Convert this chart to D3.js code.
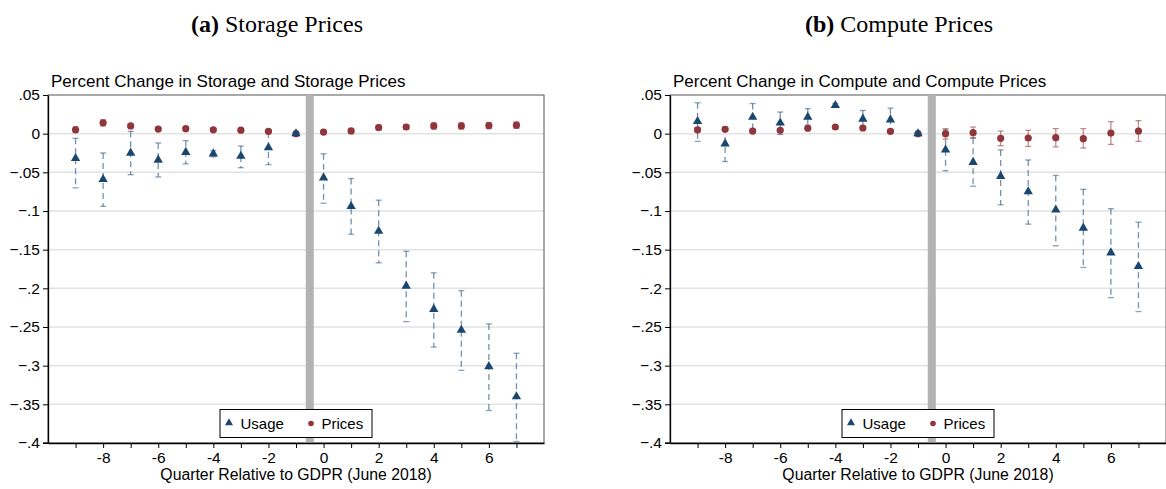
<!DOCTYPE html>
<html>
<head>
<meta charset="utf-8">
<script src="https://cdn.jsdelivr.net/npm/d3@7"></script>
<style>
  body { margin: 0; background: #fff; }
  text { font-family: "Liberation Sans", Arial, sans-serif; }
</style>
</head>
<body>
<svg id="chart"></svg>
<script>
const quarters = [-9, -8, -7, -6, -5, -4, -3, -2, -1, 0, 1, 2, 3, 4, 5, 6, 7];
const xTickLabels = [-8, -6, -4, -2, 0, 2, 4, 6];
const yTicks = [0.05, 0, -0.05, -0.1, -0.15, -0.2, -0.25, -0.3, -0.35, -0.4];

// storage panel
const storageUsage   = [-0.032, -0.059, -0.025, -0.034, -0.024, -0.026, -0.029, -0.018, 0, -0.057, -0.094, -0.126, -0.197, -0.227, -0.254, -0.301, -0.340];
const storageUsageLo = [-0.070, -0.094, -0.053, -0.056, -0.039, -0.030, -0.044, -0.040, 0, -0.090, -0.130, -0.167, -0.243, -0.276, -0.306, -0.358, -0.398];
const storageUsageHi = [-0.006, -0.025, 0.003, -0.012, -0.009, -0.022, -0.016, 0.002, 0, -0.026, -0.058, -0.086, -0.152, -0.180, -0.203, -0.246, -0.284];
const storagePrices   = [0.005, 0.014, 0.010, 0.006, 0.0065, 0.005, 0.0045, 0.003, 0, 0.002, 0.0035, 0.008, 0.0086, 0.010, 0.010, 0.0105, 0.011];
const storagePricesLo = [0.002, 0.010, 0.008, 0.004, 0.0045, 0.003, 0.0025, 0.001, 0, 0.000, 0.0005, 0.005, 0.0055, 0.006, 0.006, 0.0065, 0.007];
const storagePricesHi = [0.009, 0.018, 0.012, 0.008, 0.0085, 0.007, 0.0065, 0.005, 0, 0.004, 0.0065, 0.011, 0.0115, 0.014, 0.014, 0.0145, 0.015];

// compute panel
const computeUsage   = [0.016, -0.013, 0.0215, 0.014, 0.0215, 0.0367, 0.019, 0.018, 0, -0.021, -0.037, -0.055, -0.075, -0.0985, -0.122, -0.154, -0.1715];
const computeUsageLo = [-0.010, -0.036, 0.004, -0.001, 0.011, 0.034, 0.0086, 0.004, 0, -0.048, -0.068, -0.092, -0.117, -0.145, -0.173, -0.212, -0.230];
const computeUsageHi = [0.040, 0.0086, 0.039, 0.028, 0.0324, 0.039, 0.030, 0.033, 0, 0.005, -0.006, -0.021, -0.034, -0.054, -0.072, -0.097, -0.1145];
const computePrices   = [0.005, 0.0056, 0.0034, 0.0043, 0.007, 0.0086, 0.0073, 0.003, 0, 0.0, 0.0013, -0.006, -0.0056, -0.0052, -0.0065, 0.0008, 0.0034];
const computePricesLo = [0.002, 0.003, 0.001, 0.002, 0.005, 0.0065, 0.005, 0.001, 0, -0.007, -0.005, -0.0156, -0.0165, -0.017, -0.0186, -0.0139, -0.010];
const computePricesHi = [0.008, 0.008, 0.006, 0.0065, 0.009, 0.0105, 0.0095, 0.005, 0, 0.0065, 0.0086, 0.0034, 0.0043, 0.0065, 0.0065, 0.0155, 0.0168];

const usageColor = "#1a476f";
const pricesColor = "#90353b";

const svg = d3.select("#chart").attr("width", 1166).attr("height", 489);

const panels = [
    { left: 48, sup: "(a)", supText: " Storage Prices", title: "Percent Change in Storage and Storage Prices",
      usage: storageUsage, usageLo: storageUsageLo, usageHi: storageUsageHi,
      prices: storagePrices, pricesLo: storagePricesLo, pricesHi: storagePricesHi },
    { left: 670, sup: "(b)", supText: " Compute Prices", title: "Percent Change in Compute and Compute Prices",
      usage: computeUsage, usageLo: computeUsageLo, usageHi: computeUsageHi,
      prices: computePrices, pricesLo: computePricesLo, pricesHi: computePricesHi }
];

const plotW = 496, plotTop = 95, plotBottom = 443;

const yFmt = v => {
    if (Math.abs(v) < 1e-9) return "0";
    return d3.format(".2~f")(v).replace("0.", ".");
};

panels.forEach(p => {
    const x = d3.scaleLinear().domain([-10, 8]).range([p.left, p.left + plotW]);
    const y = d3.scaleLinear().domain([-0.4, 0.05]).range([plotBottom, plotTop]);
    const g = svg.append("g");

    // super title
    const st = g.append("text")
        .attr("x", p.left + 229).attr("y", 32)
        .attr("text-anchor", "middle")
        .style("font-family", "'Liberation Serif', serif")
        .style("font-size", "24px");
    st.append("tspan").attr("font-weight", "bold").text(p.sup);
    st.append("tspan").text(p.supText);

    // gridlines
    g.selectAll(".grid")
        .data(yTicks.slice(1, -1))
        .enter().append("line")
        .attr("x1", p.left).attr("x2", p.left + plotW)
        .attr("y1", d => y(d)).attr("y2", d => y(d))
        .attr("stroke", "#e2e2e2").attr("stroke-width", 1.5);

    // frame
    g.append("rect")
        .attr("x", p.left).attr("y", plotTop)
        .attr("width", plotW).attr("height", plotBottom - plotTop)
        .attr("fill", "none").attr("stroke", "#555").attr("stroke-width", 1);

    // GDPR band
    g.append("rect")
        .attr("x", x(-0.5) - 4).attr("y", plotTop)
        .attr("width", 8).attr("height", plotBottom - plotTop)
        .attr("fill", "#b3b3b3");

    const data = quarters.map((q, i) => ({
        q, u: p.usage[i], uLo: p.usageLo[i], uHi: p.usageHi[i],
        pr: p.prices[i], pLo: p.pricesLo[i], pHi: p.pricesHi[i]
    }));
    const ciData = data.filter(d => d.q !== -1);

    // usage CIs
    g.selectAll(".uci")
        .data(ciData)
        .enter().append("line")
        .attr("x1", d => x(d.q)).attr("x2", d => x(d.q))
        .attr("y1", d => y(d.uHi)).attr("y2", d => y(d.uLo))
        .attr("stroke", usageColor).attr("stroke-opacity", 0.6)
        .attr("stroke-width", 1.3).attr("stroke-dasharray", "6,4");
    ["uHi", "uLo"].forEach(k => {
        g.selectAll(".ucap" + k)
            .data(ciData)
            .enter().append("line")
            .attr("x1", d => x(d.q) - 3).attr("x2", d => x(d.q) + 3)
            .attr("y1", d => y(d[k])).attr("y2", d => y(d[k]))
            .attr("stroke", usageColor).attr("stroke-opacity", 0.5).attr("stroke-width", 1.3);
    });

    // prices CIs
    g.selectAll(".pci")
        .data(ciData)
        .enter().append("line")
        .attr("x1", d => x(d.q)).attr("x2", d => x(d.q))
        .attr("y1", d => y(d.pHi)).attr("y2", d => y(d.pLo))
        .attr("stroke", pricesColor).attr("stroke-opacity", 0.55).attr("stroke-width", 1.3);
    ["pHi", "pLo"].forEach(k => {
        g.selectAll(".pcap" + k)
            .data(ciData)
            .enter().append("line")
            .attr("x1", d => x(d.q) - 3).attr("x2", d => x(d.q) + 3)
            .attr("y1", d => y(d[k])).attr("y2", d => y(d[k]))
            .attr("stroke", pricesColor).attr("stroke-opacity", 0.55).attr("stroke-width", 1.3);
    });

    // price markers
    g.selectAll(".pm")
        .data(data)
        .enter().append("circle")
        .attr("cx", d => x(d.q)).attr("cy", d => y(d.pr))
        .attr("r", 3.6).attr("fill", pricesColor);

    // usage markers
    const tri = d3.symbol().type(d3.symbolTriangle).size(38);
    g.selectAll(".um")
        .data(data)
        .enter().append("path")
        .attr("d", tri)
        .attr("transform", d => `translate(${x(d.q)},${y(d.u)})`)
        .attr("fill", usageColor);

    // axes
    const yAxis = g.append("g")
        .attr("transform", `translate(${p.left},0)`)
        .call(d3.axisLeft(y).tickValues(yTicks).tickFormat(yFmt).tickSize(5).tickSizeOuter(0));
    const xAxis = g.append("g")
        .attr("transform", `translate(0,${plotBottom})`)
        .call(d3.axisBottom(x).tickValues(quarters)
            .tickFormat(d => xTickLabels.includes(d) ? d : "")
            .tickSize(5).tickSizeOuter(0));
    [yAxis, xAxis].forEach(a => {
        a.select(".domain").attr("stroke", "#000").attr("stroke-width", 1.3);
        a.selectAll(".tick line").attr("stroke", "#000").attr("stroke-width", 1);
        a.selectAll("text")
            .style("font-family", "'Liberation Sans', Arial, sans-serif")
            .style("font-size", "15.5px").attr("fill", "#000");
    });
    yAxis.selectAll("text").attr("x", -8);
    xAxis.selectAll("text").attr("y", 9);
    // x axis line extends left under the y ticks
    g.append("line")
        .attr("x1", p.left - 5).attr("x2", p.left)
        .attr("y1", plotBottom).attr("y2", plotBottom)
        .attr("stroke", "#000").attr("stroke-width", 1.3);

    // panel title
    g.append("text")
        .attr("x", p.left + 3).attr("y", 87)
        .style("font-size", "17px")
        .text(p.title);

    // x label
    g.append("text")
        .attr("x", p.left + plotW / 2).attr("y", 480)
        .attr("text-anchor", "middle")
        .style("font-size", "15.8px")
        .text("Quarter Relative to GDPR (June 2018)");

    // legend
    const lg = g.append("g").attr("transform", `translate(${p.left + 172},409.5)`);
    lg.append("rect").attr("width", 152).attr("height", 28)
        .attr("fill", "#fff").attr("stroke", "#000").attr("stroke-width", 1);
    lg.append("path").attr("d", d3.symbol().type(d3.symbolTriangle).size(28)())
        .attr("transform", "translate(9,13.5)").attr("fill", usageColor);
    lg.append("text").attr("x", 20.5).attr("y", 19.5).style("font-size", "15px").text("Usage");
    lg.append("circle").attr("cx", 91).attr("cy", 14).attr("r", 2.8).attr("fill", pricesColor);
    lg.append("text").attr("x", 101.5).attr("y", 19.5).style("font-size", "15px").text("Prices");
});
</script>
</body>
</html>
